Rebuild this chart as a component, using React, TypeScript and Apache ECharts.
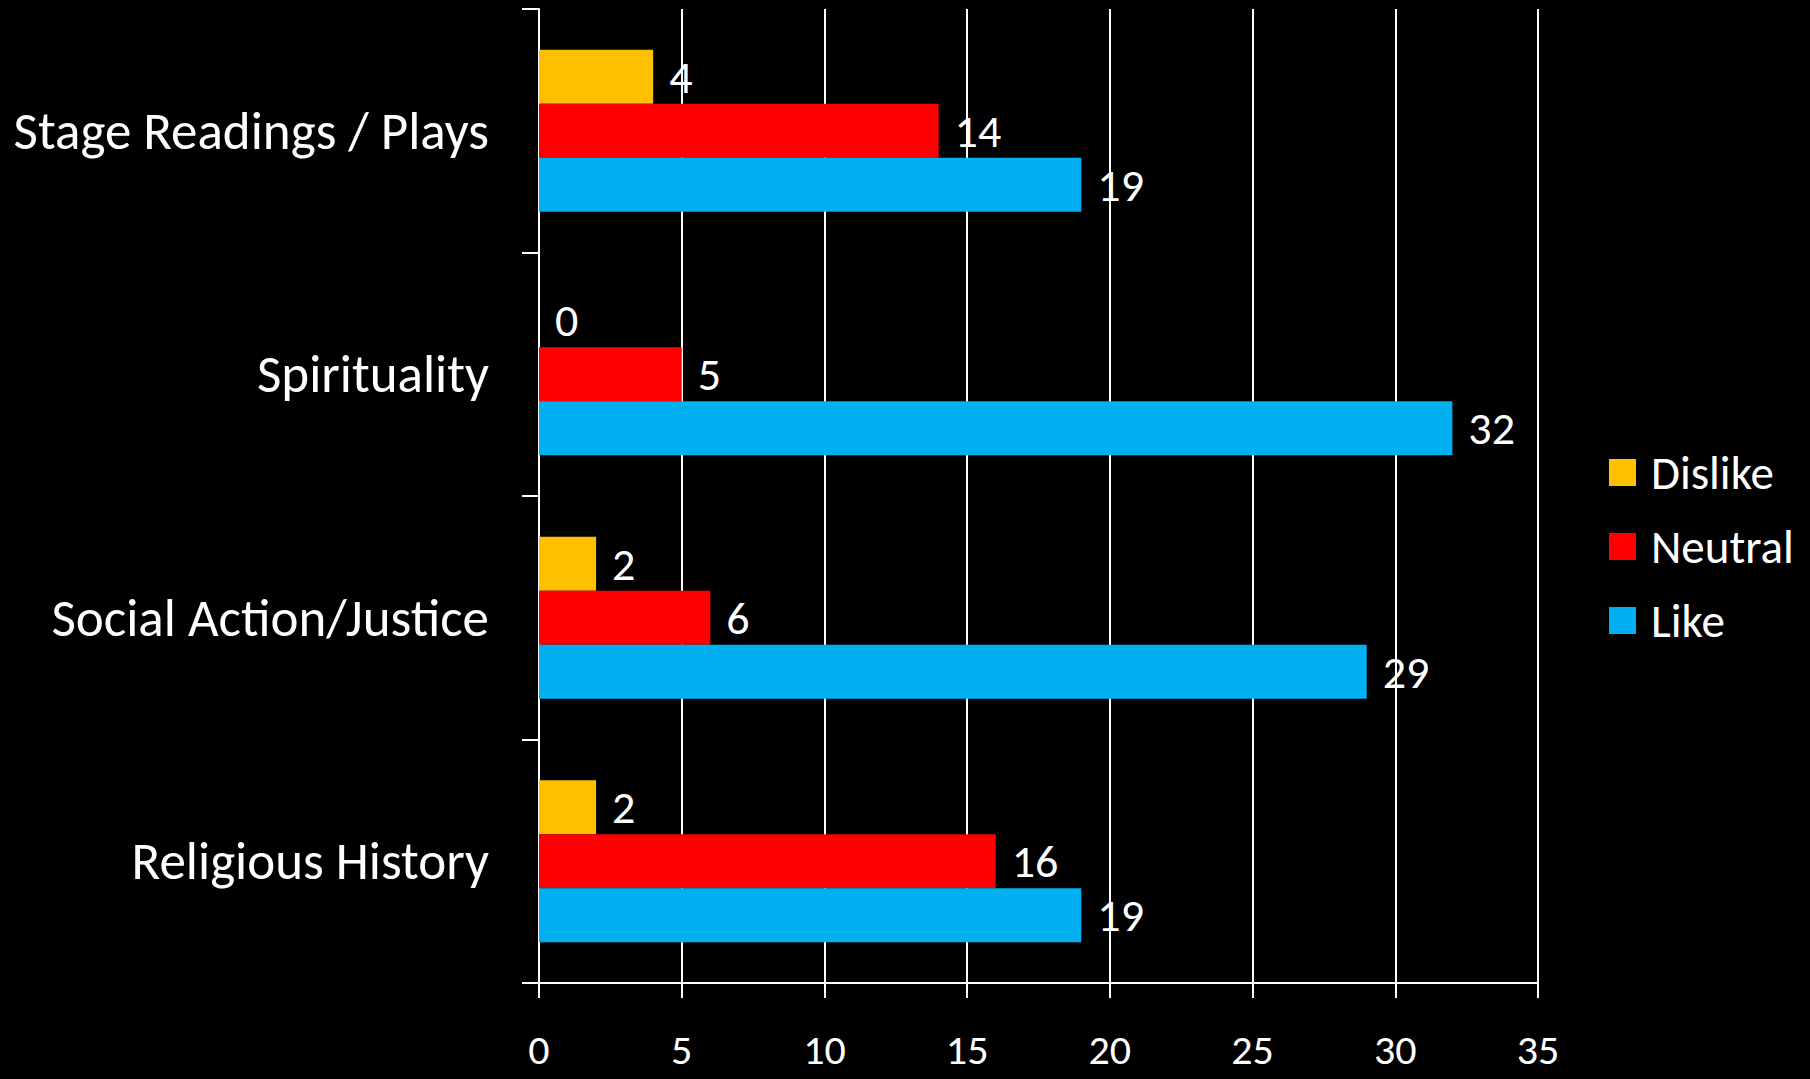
import React, { useEffect, useRef } from "react";
import * as echarts from "echarts";

const categories = ["Stage Readings / Plays", "Spirituality", "Social Action/Justice", "Religious History"];
const seriesNames = ["Dislike", "Neutral", "Like"];
const dislike = [4, 0, 2, 2];
const neutral = [14, 5, 6, 16];
const like = [19, 32, 29, 19];
const colors = ["#FFC000", "#FF0000", "#00B0F0"];
const xTicks = { min: 0, max: 35, interval: 5 };

const FONT = "Carlito, Lato, 'Open Sans', sans-serif";

export default function App() {
  const ref = useRef<HTMLDivElement>(null);
  useEffect(() => {
    if (!ref.current) return;
    const chart = echarts.init(ref.current, undefined, { renderer: "svg" });
    const values = [dislike, neutral, like];
    chart.setOption({
      animation: false,
      backgroundColor: "#000000",
      grid: { left: 539, right: 272, top: 9, bottom: 96, containLabel: false },
      legend: {
        orient: "vertical",
        left: 1604,
        top: 444,
        itemWidth: 27,
        itemHeight: 27,
        itemGap: 27,
        icon: "rect",
        data: seriesNames,
        textStyle: { color: "#ffffff", fontFamily: FONT, fontSize: 47, lineHeight: 47, padding: [0, 0, 0, 10] },
      },
      xAxis: {
        type: "value",
        min: xTicks.min,
        max: xTicks.max,
        interval: xTicks.interval,
        axisLine: { show: true, lineStyle: { color: "#ffffff", width: 2 } },
        axisTick: { show: true, length: 15, inside: false, lineStyle: { color: "#ffffff", width: 2 } },
        splitLine: { show: true, lineStyle: { color: "#ffffff", width: 2 } },
        axisLabel: { color: "#ffffff", fontFamily: FONT, fontSize: 42, lineHeight: 42, margin: 45 },
      },
      yAxis: {
        type: "category",
        inverse: true,
        data: categories,
        axisLine: { show: true, lineStyle: { color: "#ffffff", width: 2 } },
        axisTick: { show: true, length: 17, inside: false, alignWithLabel: false, lineStyle: { color: "#ffffff", width: 2 } },
        axisLabel: { color: "#ffffff", fontFamily: FONT, fontSize: 53, margin: 50 },
        splitLine: { show: false },
      },
      series: seriesNames.map((name, i) => ({
        name,
        type: "bar",
        data: values[i],
        barWidth: 54,
        barGap: "0%",
        itemStyle: { color: colors[i] },
        label: {
          show: true,
          position: "right",
          distance: 16,
          color: "#ffffff",
          fontFamily: FONT,
          fontSize: 46,
        },
      })),
    });
    return () => chart.dispose();
  }, []);
  return <div ref={ref} style={{ position: "fixed", left: 0, top: 0, width: 1810, height: 1079 }} />;
}
